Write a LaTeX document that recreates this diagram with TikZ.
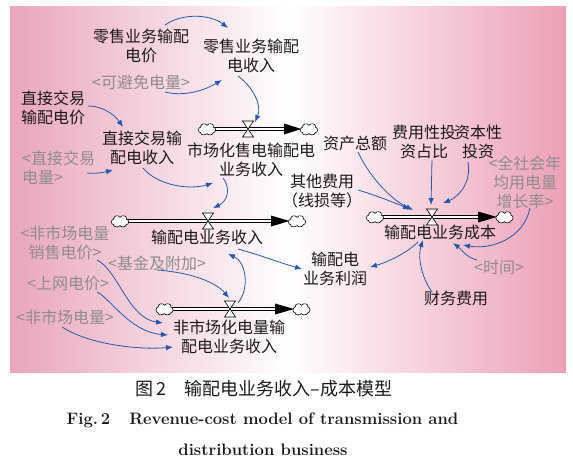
\documentclass[tikz,border=0pt]{standalone}
\usepackage{fontspec}
\newfontfamily\cjk{Noto Sans CJK SC}
\usetikzlibrary{arrows.meta}
\definecolor{pinkL}{RGB}{233,166,187}
\definecolor{pinkR}{RGB}{236,160,182}
\definecolor{lnk}{RGB}{38,88,172}
\definecolor{txt}{RGB}{30,25,25}
\definecolor{greytxt}{RGB}{145,140,142}
\begin{document}
\begin{tikzpicture}[x=1pt,y=-1pt,
  lbl/.style={font=\cjk\fontsize{16}{19}\selectfont, text=txt, align=center, inner sep=1pt},
  glbl/.style={lbl, text=greytxt},
  link/.style={draw=lnk, line width=0.8pt, -{Latex[length=7pt,width=5.5pt]}},
  pipe/.style={draw=black, line width=0.65pt, double=white, double distance=2pt},
  valve/.pic={\draw[fill=white,line width=0.6pt] (-5.5,-8)--(5.5,-8)--(0,0)--cycle (-5.5,8)--(5.5,8)--(0,0)--cycle;},
  cloudpic/.pic={\draw[fill=white,line width=0.6pt,scale=0.92]
    (-7,4) .. controls (-10,4) and (-10,-2) .. (-7,-2)
    .. controls (-7,-6) and (-2,-7) .. (0,-4)
    .. controls (2,-7) and (8,-6) .. (7,-2)
    .. controls (10,-2) and (10,4) .. (7,4)
    .. controls (6,7) and (1,7) .. (0,5)
    .. controls (-2,7) and (-7,7) .. (-7,4) -- cycle;}
]
\useasboundingbox (0,0) rectangle (573,459);
\shade[left color=pinkL, right color=pinkR, middle color=white] (10,6) rectangle (566,372);

% ---- flows ----
\coordinate (c1L) at (207,129);
\coordinate (c1R) at (309,129);
\coordinate (t1) at (284,129);
\coordinate (v1) at (248,129);
\draw[pipe] ([xshift=7pt]c1L) -- ([xshift=2pt]t1);
\fill[black] ([yshift=5.5pt]t1) -- ([xshift=-7.5pt]c1R) -- ([yshift=-5.5pt]t1) -- cycle;
\pic at (c1L) {cloudpic};
\pic at (c1R) {cloudpic};
\pic at (v1) {valve};

\coordinate (c2L) at (120,221);
\coordinate (c2R) at (297,221);
\coordinate (t2) at (271,221);
\coordinate (v2) at (208,221);
\draw[pipe] ([xshift=7pt]c2L) -- ([xshift=2pt]t2);
\fill[black] ([yshift=5.5pt]t2) -- ([xshift=-7.5pt]c2R) -- ([yshift=-5.5pt]t2) -- cycle;
\pic at (c2L) {cloudpic};
\pic at (c2R) {cloudpic};
\pic at (v2) {valve};

\coordinate (c3L) at (164.5,309);
\coordinate (c3R) at (301.5,309);
\coordinate (t3) at (275,309);
\coordinate (v3) at (230,309);
\draw[pipe] ([xshift=7pt]c3L) -- ([xshift=2pt]t3);
\fill[black] ([yshift=5.5pt]t3) -- ([xshift=-7.5pt]c3R) -- ([yshift=-5.5pt]t3) -- cycle;
\pic at (c3L) {cloudpic};
\pic at (c3R) {cloudpic};
\pic at (v3) {valve};

\coordinate (c4L) at (375,217);
\coordinate (c4R) at (504.5,217);
\coordinate (t4) at (478,217);
\coordinate (v4) at (432,217);
\draw[pipe] ([xshift=7pt]c4L) -- ([xshift=2pt]t4);
\fill[black] ([yshift=5.5pt]t4) -- ([xshift=-7.5pt]c4R) -- ([yshift=-5.5pt]t4) -- cycle;
\pic at (c4L) {cloudpic};
\pic at (c4R) {cloudpic};
\pic at (v4) {valve};

% ---- variables ----
\node[lbl] (nRetailPrice) at (141,46) {零售业务输配\\电价};
\node[lbl] (nRetailRev) at (251,56) {零售业务输配\\电收入};
\node[glbl] (nAvoid) at (141,82) {<可避免电量>};
\node[lbl] (nDirectPrice) at (53,107.5) {直接交易\\输配电价};
\node[lbl] (nDirectRev) at (142,148) {直接交易输\\配电收入};
\node[glbl, align=left, anchor=west] (nDirectQty) at (21,167.5) {<直接交易\\电量>};
\node[lbl] (nMarketRev) at (251,160) {市场化售电输配电\\业务收入};
\node[lbl] (nAssets) at (355,143) {资产总额};
\node[lbl] (nExpRatio) at (424,141.5) {费用性投\\资占比};
\node[lbl] (nCapInv) at (478,141.5) {资本性\\投资};
\node[glbl] (nGrowth) at (525,182) {<全社会年\\均用电量\\增长率>};
\node[lbl] (nOther) at (322,191) {其他费用\\（线损等）};
\node[lbl] (nCost) at (440,232) {输配电业务成本};
\node[glbl] (nTime) at (499,267) {<时间>};
\node[lbl] (nFinance) at (456,298) {财务费用};
\node[lbl] (nProfit) at (335,269) {输配电\\业务利润};
\node[lbl] (nMainRev) at (207,237) {输配电业务收入};
\node[glbl] (nNMPrice) at (65,243) {<非市场电量\\销售电价>};
\node[glbl] (nFund) at (157,263) {<基金及附加>};
\node[glbl] (nGrid) at (68,283) {<上网电价>};
\node[glbl] (nNMQty) at (65,317) {<非市场电量>};
\node[lbl] (nNMRev) at (229,336.5) {非市场化电量输\\配电业务收入};

% ---- links ----
\draw[link] ([shift={(24,-21)}]nRetailPrice.center) .. controls +(17,-12) and +(-18,-14) .. ([shift={(-23,-28)}]nRetailRev.center);
\draw[link] ([shift={(24,10)}]nAvoid.center) .. controls +(20,5) and +(-17,10) .. ([shift={(-29,24)}]nRetailRev.center);
\draw[link] ([shift={(-13,20)}]nRetailRev.center) .. controls +(16,12) and +(7,-16) .. ([shift={(7,-7)}]v1);
\draw[link] ([shift={(35,-1.5)}]nDirectPrice.center) .. controls +(14,0) and +(-9,-13) .. ([shift={(-19,-21)}]nDirectRev.center);
\draw[link] ([shift={(66,5.5)}]nDirectQty.west) .. controls +(10,1) and +(-8,2) .. ([shift={(-29,22)}]nDirectRev.center);
\draw[link] ([shift={(1,20)}]nDirectRev.center) .. controls +(15,18) and +(-23,7) .. ([shift={(-38,23)}]nMarketRev.center);
\draw[link] ([shift={(-28,18)}]nMarketRev.center) .. controls +(9,12) and +(13,-6) .. ([shift={(5,-13)}]v2);
\draw[link] ([shift={(31,12)}]nMainRev.center) .. controls +(22,6) and +(-18,-5) .. ([shift={(-33,0)}]nProfit.center);
\draw[link] ([shift={(8,-6)}]v3) .. controls +(12,-15) and +(18,8) .. ([shift={(21,17)}]nMainRev.center);
\draw[link] ([shift={(0,7)}]nFund.center) .. controls +(28,2) and +(-15,-18) .. ([shift={(-1,-11)}]v3);
\draw[link] ([shift={(32,17)}]nNMPrice.center) .. controls +(21,10) and +(-35,-5) .. ([shift={(-66,-13.5)}]nNMRev.center);
\draw[link] ([shift={(29,9)}]nGrid.center) .. controls +(13,6) and +(-38,-3) .. ([shift={(-61,-1.5)}]nNMRev.center);
\draw[link] ([shift={(-3,10)}]nNMQty.center) .. controls +(28,18) and +(-33,3) .. ([shift={(-56,10.5)}]nNMRev.center);
\draw[link] ([shift={(3,9)}]nAssets.center) .. controls +(12,26) and +(-21,-10) .. ([shift={(-19,-7)}]v4);
\draw[link] ([shift={(36,-1)}]nOther.center) .. controls +(17,5) and +(-15,-6) .. ([shift={(-22,-8)}]v4);
\draw[link] ([shift={(8,18.5)}]nExpRatio.center) -- ([shift={(-1,-12)}]v4);
\draw[link] ([shift={(-10,20.5)}]nCapInv.center) .. controls +(4,23) and +(13,-5) .. ([shift={(11,-14)}]v4);
\draw[link] ([shift={(5,26)}]nGrowth.center) .. controls +(-6,30) and +(29,5) .. ([shift={(23,13)}]nCost.center);
\draw[link] ([shift={(-22,-7)}]nTime.center) .. controls +(-10,-2) and +(8,6) .. ([shift={(13,11)}]nCost.center);
\draw[link] ([shift={(-24,-6)}]nFinance.center) .. controls +(-12,-17) and +(-5,15) .. ([shift={(-17,8)}]nCost.center);
\draw[link] ([shift={(-22,10)}]nCost.center) .. controls +(-12,12) and +(15,-4) .. ([shift={(35,-2)}]nProfit.center);

% ---- caption ----
\node[font=\cjk\fontsize{18}{20}\selectfont, text=txt, inner sep=0pt] (cap1) at (264,389) {图\,2\hspace{18pt}输配电业务收入–成本模型};
\node[font=\fontsize{16.6}{19}\selectfont\bfseries, text=txt, inner sep=0pt] (cap2) at (262.5,420) {Fig.\,2\hspace{19pt}Revenue-cost model of transmission and};
\node[font=\fontsize{16.6}{19}\selectfont\bfseries, text=txt, inner sep=0pt] (cap3) at (263,450) {distribution business};
\end{tikzpicture}
\end{document}
